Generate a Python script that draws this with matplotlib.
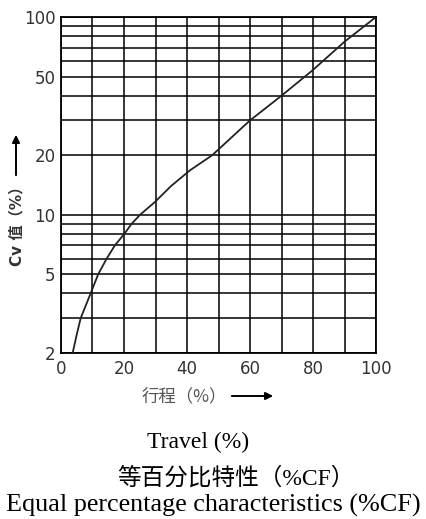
import matplotlib
matplotlib.use("Agg")
import matplotlib.pyplot as plt
from matplotlib.ticker import FixedLocator, NullFormatter

plt.rcParams['font.family'] = ['DejaVu Sans', 'Noto Sans CJK SC']

# curve
travel = [3.7, 5.0, 6.25, 9.4, 11.8, 14.5, 17.1, 20.1, 22.4, 25.1, 29.8, 35, 41, 48, 60, 70, 80, 90, 100]
cv = [2, 2.48, 3, 4, 5, 6, 7, 8, 9, 10, 11.6, 14.0, 16.8, 20, 30, 40, 54, 75, 100]

x_major = [0, 20, 40, 60, 80, 100]
x_minor = [10, 30, 50, 70, 90]
y_major = [2, 5, 10, 20, 50, 100]
y_minor = [3, 4, 6, 7, 8, 9, 30, 40, 60, 70, 80, 90]

fig = plt.figure(figsize=(4.27, 5.19), dpi=100)
ax = fig.add_axes([61 / 427, 1 - 353 / 519, 315 / 427, 336 / 519])

ax.plot(travel, cv, color='#222222', linewidth=1.3, zorder=3)

ax.set_yscale('log')
ax.set_xlim(0, 100)
ax.set_ylim(2, 100)
ax.xaxis.set_major_locator(FixedLocator(x_major))
ax.xaxis.set_minor_locator(FixedLocator(x_minor))
ax.yaxis.set_major_locator(FixedLocator(y_major))
ax.yaxis.set_minor_locator(FixedLocator(y_minor))
ax.set_yticklabels([str(v) for v in y_major])
ax.yaxis.set_minor_formatter(NullFormatter())
ax.grid(True, which='both', color='black', linewidth=1.1)
ax.tick_params(which='both', length=0, labelsize=12, labelcolor='#333333')
ax.tick_params(axis='x', pad=5)
ax.tick_params(axis='y', pad=4)
for s in ax.spines.values():
    s.set_linewidth(1.3)

# y axis label with upward arrow
fig.text(17 / 427, 1 - 222 / 519, 'Cv 值（%）', rotation=90, ha='center', va='center',
         fontsize=11, color='#333333', fontweight='bold')
ax.annotate('', xy=(16, 519 - 132), xytext=(16, 519 - 178), xycoords='figure pixels',
            textcoords='figure pixels',
            arrowprops=dict(arrowstyle='-|>', color='black', lw=1.4, mutation_scale=11))

# x axis label with arrow
fig.text(184 / 427, 1 - 396 / 519, '行程（%）', ha='center', va='center',
         fontsize=12.5, color='#555555', family=['Noto Sans CJK SC', 'DejaVu Sans'])
ax.annotate('', xy=(276, 519 - 396), xytext=(229, 519 - 396), xycoords='figure pixels',
            textcoords='figure pixels',
            arrowprops=dict(arrowstyle='-|>', color='black', lw=1.4, mutation_scale=11))

serif = ['Liberation Serif', 'Noto Sans CJK SC']
fig.text(198 / 427, 1 - 442 / 519, 'Travel (%)', ha='center', va='center',
         fontsize=17, family=serif)
fig.text(236 / 427, 1 - 478 / 519, '等百分比特性（%CF）', ha='center', va='center',
         fontsize=17, family=serif)
fig.text(213 / 427, 1 - 505 / 519, 'Equal percentage characteristics (%CF)', ha='center',
         va='center', fontsize=18.8, family=serif)

fig.savefig('out.png', dpi=100)
